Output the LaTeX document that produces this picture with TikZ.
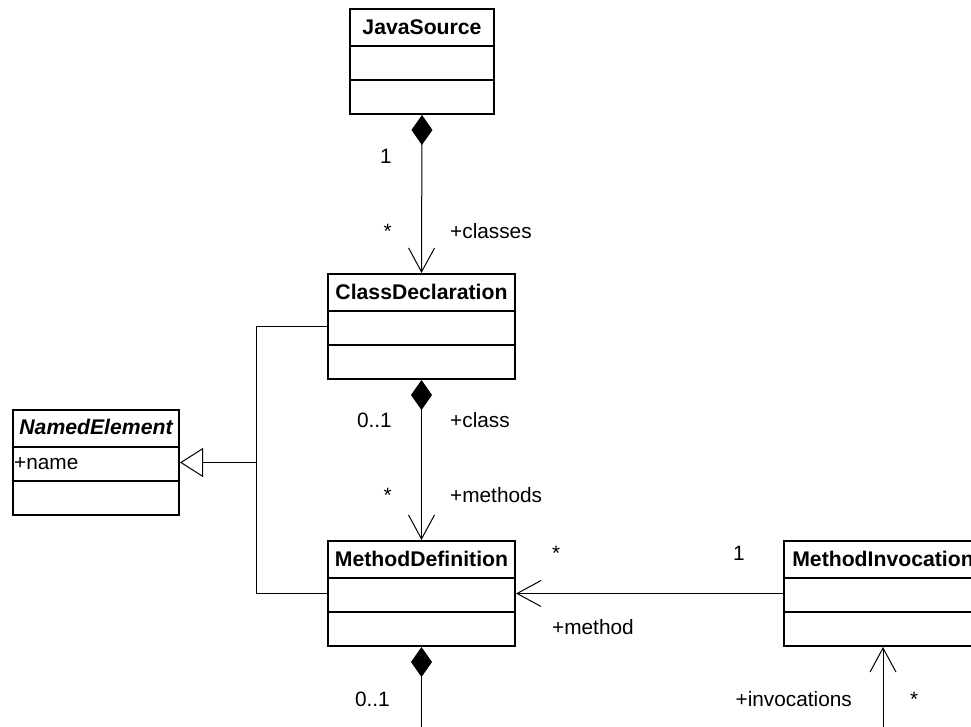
\documentclass[tikz,border=0pt]{standalone}
\usepackage{fontspec}
\setmainfont{Liberation Sans}
\usetikzlibrary{arrows.meta, calc, positioning}

\begin{document}
\begin{tikzpicture}[x=1pt, y=-1pt,
    font=\fontsize{20.8}{25}\selectfont,
    classbox/.style={draw, line width=2pt, minimum height=105pt, inner sep=0pt, anchor=north west},
    classline/.style={line width=2pt},
    title/.style={font=\fontsize{21.2}{25}\selectfont\bfseries, inner sep=0pt, anchor=base},
    assoc/.style={line width=1pt},
    comp/.style={assoc, {Diamond[length=30pt, width=21pt]}-{Straight Barb[length=24pt, width=26pt]}},
    lbl/.style={inner sep=0pt, anchor=base}]
                    \clip (0,0) rectangle (971,726);
                    % classes
                    \node[classbox, minimum width=144pt] (js) at (349,8) {};
                    \node[classbox, minimum width=187pt] (cd) at (327,273) {};
                    \node[classbox, minimum width=187pt] (md) at (327,540) {};
                    \node[classbox, minimum width=198pt] (mi) at (783,540) {};
                    \node[classbox, minimum width=166pt] (ne) at (12,409) {};
                    \foreach \c in {js, cd, md, mi, ne} {
                        \draw[classline] ($(\c.north west)+(0,38)$) -- ($(\c.north east)+(0,38)$);
                        \draw[classline] ($(\c.north west)+(0,72)$) -- ($(\c.north east)+(0,72)$);
                    }
                    \node[title] (js title) at ($(js.north)+(0,26)$) {JavaSource};
                    \node[title] (cd title) at ($(cd.north)+(0,26)$) {ClassDeclaration};
                    \node[title] (md title) at ($(md.north)+(0,26)$) {MethodDefinition};
                    \node[title] (mi title) at ($(mi.north)+(0,26)$) {MethodInvocation};
                    \node[title, font=\fontsize{21.2}{25}\selectfont\bfseries\itshape] (ne title) at ($(ne.north)+(0,25)$) {NamedElement};
                    \node[lbl, anchor=base west] (ne name) at ($(ne.north west)+(2,60)$) {+name};
                    % associations
                    \coordinate (gen) at ($(ne.east)+(76,0)$);
                    \coordinate (inv end) at ($(mi.south)+(0,110)$);
                    \coordinate (md end) at ($(md.south)+(0,110)$);
                    \draw[comp] (js.south) -- (cd.north);
                    \draw[comp] (cd.south) -- (md.north);
                    \draw[assoc, -{Straight Barb[length=24pt, width=26pt]}] (mi.west) -- (md.east);
                    \draw[assoc, -{Straight Barb[length=24pt, width=26pt]}] (inv end) -- (mi.south);
                    \draw[assoc, {Diamond[length=30pt, width=21pt]}-] (md.south) -- (md end);
                    \draw[assoc, -{Triangle[open, length=23pt, width=29pt]}] (cd.west) -| (gen) -- (ne.east);
                    \draw[assoc] (md.west) -| (gen);
                    % labels
                    \node[lbl, anchor=base east] (js mult) at (392,163) {1};
                    \node[lbl, anchor=base east] (cd mult) at (392,238) {*};
                    \node[lbl, anchor=base west] (classes role) at (450,238) {+classes};
                    \node[lbl, anchor=base east] (cd owner mult) at (392,427) {0..1};
                    \node[lbl, anchor=base west] (class role) at (450,427) {+class};
                    \node[lbl, anchor=base east] (md mult) at (392,502) {*};
                    \node[lbl, anchor=base west] (methods role) at (450,502) {+methods};
                    \node[lbl, anchor=base west] (method mult) at (552,560) {*};
                    \node[lbl, anchor=base east] (mi mult) at (745,560) {1};
                    \node[lbl, anchor=base west] (method role) at (552,634) {+method};
                    \node[lbl, anchor=base east] (inv role) at (852,706) {+invocations};
                    \node[lbl, anchor=base west] (inv mult) at (910,706) {*};
                    \node[lbl, anchor=base east] (md owner mult) at (390,706) {0..1};
                \end{tikzpicture}
\end{document}
